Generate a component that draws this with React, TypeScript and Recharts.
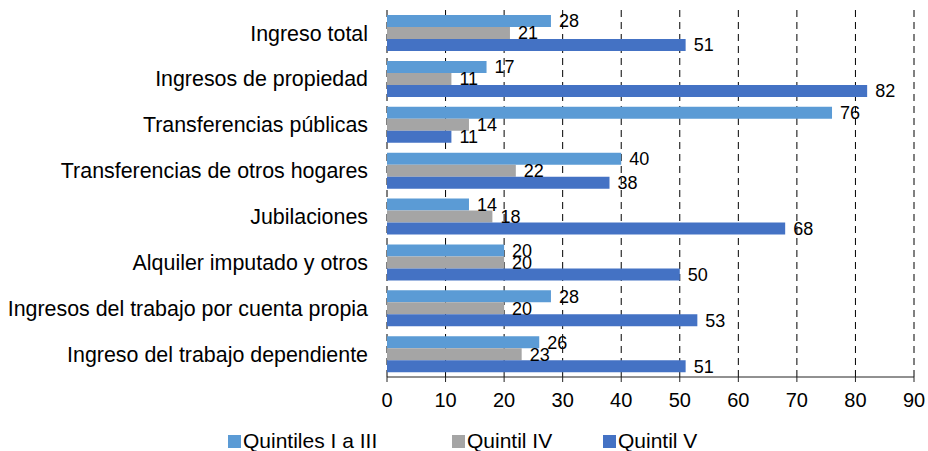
import { BarChart, Bar, XAxis, YAxis, CartesianGrid, Legend, LabelList } from "recharts";

const categories = [
  "Ingreso total",
  "Ingresos de propiedad",
  "Transferencias públicas",
  "Transferencias de otros hogares",
  "Jubilaciones",
  "Alquiler imputado y otros",
  "Ingresos del trabajo por cuenta propia",
  "Ingreso del trabajo dependiente",
];

const quintilesIaIII = [28, 17, 76, 40, 14, 20, 28, 26];
const quintilIV = [21, 11, 14, 22, 18, 20, 20, 23];
const quintilV = [51, 82, 11, 38, 68, 50, 53, 51];

const xTicks = [0, 10, 20, 30, 40, 50, 60, 70, 80, 90];
// bordes de categoría para las marcas del eje vertical
const bandTicks = [0, 1, 2, 3, 4, 5, 6, 7, 8];

const seriesKeys = ["q13", "q4", "q5"];
const seriesNames = ["Quintiles I a III", "Quintil IV", "Quintil V"];
const seriesColors = ["#5B9BD5", "#A5A5A5", "#4472C4"];

const data = categories.map((name, i) => ({
  name,
  q13: quintilesIaIII[i],
  q4: quintilIV[i],
  q5: quintilV[i],
}));

const FONT = "Arial, 'Liberation Sans', sans-serif";
const itemWidths = [224, 151, 140];

function LegendBox() {
  return (
    <div style={{ display: "flex", height: 24, alignItems: "center", paddingLeft: 228, fontFamily: FONT, fontSize: 21, color: "#000" }}>
      {seriesNames.map((n, i) => (
        <div key={n} style={{ display: "flex", alignItems: "center", width: itemWidths[i] }}>
          <span style={{ width: 13, height: 13, background: seriesColors[i], marginRight: 2, display: "inline-block" }} />
          <span>{n}</span>
        </div>
      ))}
    </div>
  );
}

export default function App() {
  return (
    <div style={{ position: "absolute", left: 0, top: 0, background: "#fff" }}>
      <BarChart
        width={928}
        height={451}
        data={data}
        layout="vertical"
        margin={{ top: 10, right: 14, left: 0, bottom: 10 }}
        barGap={0}
        barSize={12}
        style={{ fontFamily: FONT }}
      >
        <CartesianGrid horizontal={false} stroke="#000" strokeDasharray="7 5" yAxisId="cat" />
        <XAxis
          type="number"
          domain={[0, 90]}
          ticks={xTicks}
          interval={0}
          height={40}
          tickSize={5}
          tickMargin={11}
          axisLine={{ stroke: "#222" }}
          tickLine={{ stroke: "#222" }}
          tick={{ fontSize: 20, fill: "#000" }}
        />
        <YAxis
          yAxisId="b"
          type="number"
          domain={[0, 8]}
          ticks={bandTicks}
          width={0}
          tick={false}
          tickSize={6}
          axisLine={{ stroke: "#222" }}
          tickLine={{ stroke: "#222" }}
        />
        <YAxis
          yAxisId="cat"
          type="category"
          dataKey="name"
          width={387}
          axisLine={false}
          tickLine={false}
          tickSize={0}
          tickMargin={19}
          interval={0}
          tick={{ fontSize: 21.4, fill: "#000" }}
        />
        <Legend verticalAlign="bottom" wrapperStyle={{ bottom: -2, left: 0 }} content={() => <LegendBox />} />
        {seriesKeys.map((k, i) => (
          <Bar key={k} dataKey={k} yAxisId="cat" name={seriesNames[i]} fill={seriesColors[i]} isAnimationActive={false}>
            <LabelList dataKey={k} position="right" offset={8} style={{ fontSize: 18, fill: "#000" }} />
          </Bar>
        ))}
      </BarChart>
    </div>
  );
}
